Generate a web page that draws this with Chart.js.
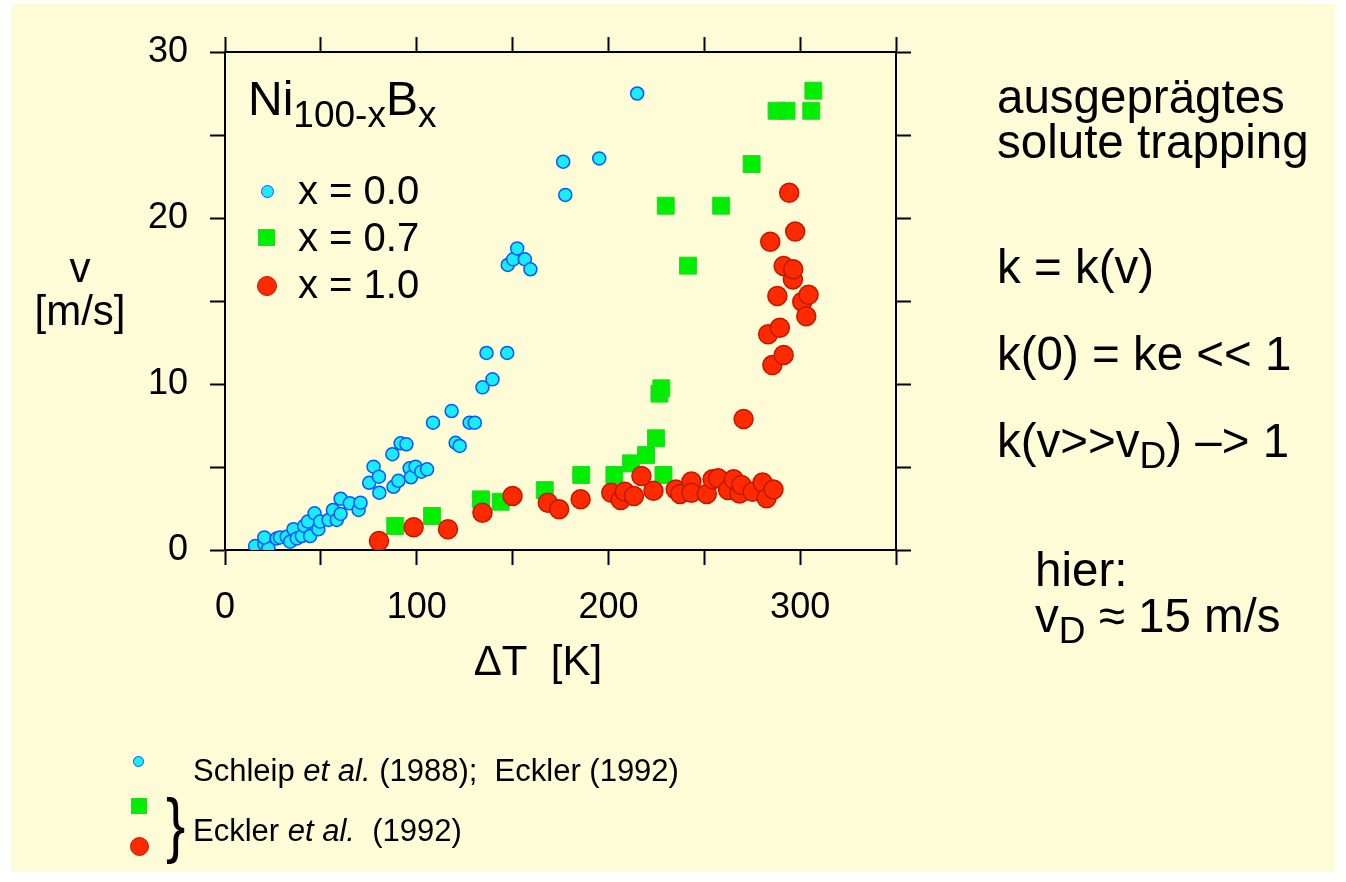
<!DOCTYPE html>
<html>
<head>
<meta charset="utf-8">
<script src="https://cdn.jsdelivr.net/npm/chart.js@4"></script>
<style>
  body { margin: 0; background: #fff; font-family: "Liberation Sans", Arial, Helvetica, sans-serif; }
  #page { position: relative; width: 1346px; height: 882px; overflow: hidden; }
  #bg { position: absolute; left: 11px; top: 4px; width: 1324px; height: 868px; background: #fefcd6; }
  #myChart { position: absolute; left: 0; top: 0; }
  .t { position: absolute; white-space: nowrap; line-height: 1; color: #000; }
  .sub { position: relative; top: 0.3em; font-size: 0.78em; }
  .mk { position: absolute; box-sizing: border-box; }
  .blue { background: #19ecff; border: 1.5px solid #0a55ff; border-radius: 50%; }
  .green { background: #00ee00; border: 1px solid #2bd62b; }
  .red { background: #ff2a00; border: 1.5px solid #c01800; border-radius: 50%; }
</style>
</head>
<body>
<div id="page">
  <div id="bg"></div>
  <canvas id="myChart" width="1346" height="882"></canvas>

  <!-- axis titles -->
  <div class="t" style="left:0;width:160px;text-align:center;top:247px;font-size:42px;">v</div>
  <div class="t" style="left:0;width:160px;text-align:center;top:290px;font-size:42px;">[m/s]</div>
  <div class="t" style="left:388px;width:300px;text-align:center;top:640px;font-size:42px;">&Delta;T&nbsp;&nbsp;[K]</div>

  <!-- legend inside the plot -->
  <div class="t" style="left:248px;top:75px;font-size:48px;">Ni<span style="position:relative;top:12px;font-size:37px;">100-x</span>B<span style="position:relative;top:12px;font-size:37px;">x</span></div>
  <div class="mk blue" style="left:261px;top:185px;width:13px;height:13px;"></div>
  <div class="mk green" style="left:258px;top:229px;width:17px;height:17px;"></div>
  <div class="mk red" style="left:257px;top:276px;width:20px;height:20px;"></div>
  <div class="t" style="left:298px;top:170px;font-size:40px;">x = 0.0</div>
  <div class="t" style="left:298px;top:217px;font-size:40px;">x = 0.7</div>
  <div class="t" style="left:298px;top:264px;font-size:40px;">x = 1.0</div>

  <!-- notes on the right -->
  <div class="t" style="left:997px;top:73px;font-size:47.5px;">ausgeprägtes</div>
  <div class="t" style="left:997px;top:118px;font-size:47.5px;">solute trapping</div>
  <div class="t" style="left:997px;top:243px;font-size:47.5px;">k = k(v)</div>
  <div class="t" style="left:997px;top:330px;font-size:47.5px;">k(0) = ke &lt;&lt; 1</div>
  <div class="t" style="left:997px;top:417px;font-size:47.5px;">k(v&gt;&gt;v<span class="sub">D</span>) &ndash;&gt; 1</div>
  <div class="t" style="left:1035px;top:546px;font-size:47.5px;">hier:</div>
  <div class="t" style="left:1035px;top:592px;font-size:47.5px;">v<span class="sub">D</span> &asymp; 15 m/s</div>

  <!-- sources -->
  <div class="mk blue" style="left:133px;top:756px;width:11px;height:11px;"></div>
  <div class="mk green" style="left:131px;top:798px;width:16px;height:16px;"></div>
  <div class="mk red" style="left:130px;top:837px;width:19px;height:19px;"></div>
  <div class="t" style="left:166px;top:788px;font-size:72px;transform:scaleX(0.8);transform-origin:left top;">}</div>
  <div class="t" style="left:193px;top:755px;font-size:31px;">Schleip <i>et al.</i> (1988);&nbsp; Eckler (1992)</div>
  <div class="t" style="left:193px;top:815px;font-size:31px;">Eckler <i>et al.</i>&nbsp; (1992)</div>
</div>

<script>
const ctx = document.getElementById("myChart").getContext("2d");

// undercooling dT [K], growth velocity v [m/s]
const pureNi = [
  [15.7,0.24],[20.5,0.36],[22.6,0.10],[20.5,0.76],[27.0,0.70],[28.7,0.76],[32.2,0.80],
  [34.0,0.50],[35.7,1.25],[37.5,0.70],[40.1,0.84],[41.3,1.45],[43.2,1.71],[44.4,0.84],
  [46.7,2.21],[48.7,1.25],[49.6,1.71],[54.0,1.81],[56.3,2.41],[58.3,1.81],[60.3,2.17],
  [60.3,3.09],[65.1,2.81],[69.7,2.41],[70.7,2.85],[75.2,4.05],[77.5,5.02],[80.3,4.42],
  [80.5,3.45],[87.3,5.77],[87.9,3.81],[90.4,4.17],[91.6,6.43],[94.6,6.37],[96.3,4.92],
  [97.0,4.38],[99.4,5.02],[102.4,4.72],[105.4,4.86],[108.5,7.67],[118.2,8.37],[120.3,6.46],
  [122.4,6.27],[127.6,7.67],[130.3,7.67],[134.3,9.80],[136.4,11.87],[139.5,10.28],
  [147.2,11.87],[147.5,17.17],[150.3,17.51],[152.4,18.17],[156.4,17.51],[159.3,16.91],
  [176.4,23.39],[177.5,21.39],[195.2,23.59],[215,27.5]
];
const nib07 = [
  [88.8,1.45],[108,2.05],[133.5,3.05],[143.8,2.91],[166.8,3.61],[185.8,4.52],[203.1,4.52],
  [211.8,5.22],[219.6,5.72],[224.8,6.73],[226.6,9.42],[227.6,9.74],[228.7,4.52],[229.9,20.74],
  [241.5,17.13],[258.8,20.74],[274.7,23.25],[287.7,26.46],[292.9,26.46],[305.8,26.46],[306.9,27.67]
];
const nib10 = [
  [80.3,0.54],[98.4,1.37],[116.3,1.25],[134.3,2.25],[150,3.25],[168.4,2.85],[174.3,2.45],
  [185.5,3.05],[201.5,3.45],[206.4,3.01],[208.5,3.51],[213.3,3.25],[217.2,4.46],[223.5,3.57],
  [235.1,3.65],[237.4,3.37],[243.3,4.12],[243.3,3.45],[251.3,3.37],[254.3,4.26],[257.2,4.32],
  [262.4,3.61],[265.3,4.26],[268.4,3.41],[269.4,3.92],[270.5,7.89],[275.2,3.51],[280.4,4.06],
  [282.5,3.11],[286.1,3.65],[283.3,13.0],[284.4,18.57],[285.5,11.14],[288.1,15.3],[289.4,13.39],
  [291.4,11.75],[291.4,17.11],[294.3,21.52],[296.2,16.3],[296.4,16.91],[297.4,19.18],
  [301.1,14.96],[303.2,14.08],[304.4,15.38]
];

const xLabels = [0, 100, 200, 300];
const yLabels = [0, 10, 20, 30];

const toPoints = arr => arr.map(p => ({ x: p[0], y: p[1] }));
const font = { family: "'Liberation Sans', Arial, Helvetica, sans-serif", size: 36 };

const grid = { drawOnChartArea: false, drawTicks: true, tickLength: 15, tickWidth: 2, tickColor: '#000' };
const border = { display: true, color: '#000', width: 2 };

const data = {
  datasets: [
    {
      label: 'x = 0.0',
      data: toPoints(pureNi),
      pointStyle: 'circle',
      pointRadius: 6.5,
      backgroundColor: '#19ecff',
      borderColor: '#0a55ff',
      borderWidth: 1.5,
      xAxisID: 'x', yAxisID: 'y',
    },
    {
      label: 'x = 1.0',
      data: toPoints(nib10),
      pointStyle: 'circle',
      pointRadius: 9.5,
      backgroundColor: '#ff2a00',
      borderColor: '#c01800',
      borderWidth: 1.5,
      xAxisID: 'x', yAxisID: 'y',
    },
    {
      label: 'x = 0.7',
      data: toPoints(nib07),
      pointStyle: 'rect',
      pointRadius: 12,
      backgroundColor: '#00ee00',
      borderColor: '#2bd62b',
      borderWidth: 1,
      xAxisID: 'x', yAxisID: 'y',
    },
  ],
};

const config = {
  type: 'scatter',
  data: data,
  options: {
    responsive: false,
    animation: false,
    layout: { padding: 0 },
    plugins: { legend: { display: false }, tooltip: { enabled: false } },
    scales: {
      x: {
        type: 'linear', position: 'bottom', min: 0, max: 350,
        afterFit: s => { s.height = 882 - 550; },
        border, grid,
        ticks: {
          stepSize: 50, autoSkip: false, maxRotation: 0, color: '#000', font, padding: 21,
          callback: v => xLabels.includes(v) ? String(v) : '',
        },
      },
      y: {
        type: 'linear', position: 'left', min: 0, max: 30,
        afterFit: s => { s.width = 225; },
        border, grid,
        ticks: {
          stepSize: 5, autoSkip: false, color: '#000', font, padding: 22,
          callback: v => yLabels.includes(v) ? String(v) : '',
        },
      },
      x2: {
        type: 'linear', position: 'top', min: 0, max: 350,
        afterFit: s => { s.height = 52; },
        border, grid,
        ticks: { stepSize: 50, display: false },
      },
      y2: {
        type: 'linear', position: 'right', min: 0, max: 30,
        afterFit: s => { s.width = 1346 - 896; },
        border, grid,
        ticks: { stepSize: 5, display: false },
      },
    },
  },
};

const myChart = new Chart(ctx, config);
</script>
</body>
</html>
